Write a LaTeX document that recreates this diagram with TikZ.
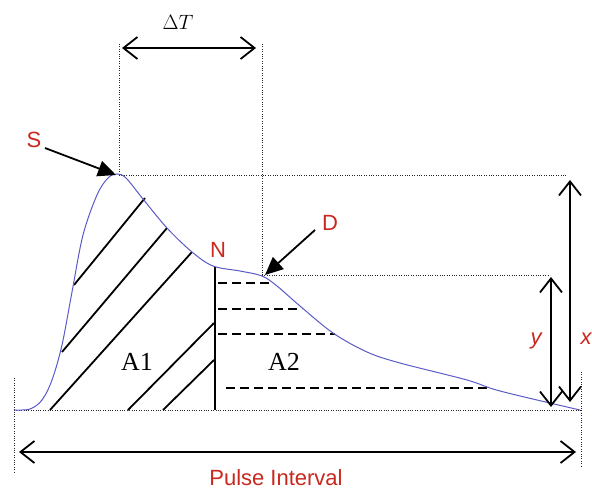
\documentclass[tikz,border=0pt]{standalone}
\usepackage{fontspec}
\setmainfont{Liberation Serif}
\setsansfont{Liberation Sans}
\usetikzlibrary{arrows.meta}
\definecolor{lblred}{RGB}{200,40,30}
\definecolor{curveblue}{RGB}{90,90,200}
\tikzset{
  dotln/.style={line width=1pt,black!85,dash pattern=on 1pt off 1.4pt},
  hatch/.style={line width=1.8pt,black},
  dashln/.style={dash pattern=on 9pt off 5pt,line width=1.8pt,black},
  dimarrow/.style={line width=1.8pt,{Straight Barb[length=14pt,width=22pt,line width=1.8pt]}-{Straight Barb[length=14pt,width=22pt,line width=1.8pt]}},
  ptrarrow/.style={line width=1.8pt,-{Triangle[length=18pt,width=16pt]}},
  redlbl/.style={text=lblred,font=\sffamily\fontsize{22}{24}\selectfont,inner sep=0pt},
  arealbl/.style={font=\rmfamily\fontsize{26}{28}\selectfont,inner sep=0pt}
}
\begin{document}
\begin{tikzpicture}[x=1pt,y=-1pt]
\useasboundingbox (0,0) rectangle (592,490);
% key points
\coordinate (pk) at (116,175);
\coordinate (dp) at (265,275);
% dotted guides
\draw[dotln] (14,378) -- (14,472);
\draw[dotln] (581,372) -- (581,466);
\draw[dotln] (14,410) -- (581,410);
\draw[dotln] (119,44) -- (119,175);
\draw[dotln] (262,44) -- (262,276);
\draw[dotln] (119,175) -- (567,175);
\draw[dotln] (262,275) -- (550,275);
% hatching A1
\draw[hatch] (74,285) -- (145,198);
\draw[hatch] (62,352) -- (167,228);
\draw[hatch] (50,410) -- (192,252);
\draw[hatch] (128,410) -- (214,323);
\draw[hatch] (163,410) -- (214,360);
% divider N
\draw[line width=2pt] (215,267) -- (215,410);
% dashed A2
\draw[dashln] (218,283) -- (272,283);
\draw[dashln] (218,309) -- (302,309);
\draw[dashln] (218,334) -- (335,334);
\draw[dashln] (226,388) -- (489,388);
% pulse curve
\draw[curveblue,line width=1pt] plot[smooth,tension=0.55] coordinates {
(14,410) (30,409) (42,400) (52,380) (62,345) (72,292) (83,235) (97,195) (108,178) (117,174) (126,178) (143,199) (167,228) (192,252) (213,266) (240,271) (262,276) (277,286) (300,306) (333,333) (367,352) (400,363) (467,380) (500,391) (580,410)};
% labels
\node[font=\fontsize{22}{24}\selectfont,inner sep=0pt] (dT) at (178,22) {$\Delta T$};
\node[redlbl] (S) at (34,140) {S};
\node[redlbl] (N) at (218,250) {N};
\node[redlbl] (D) at (330,223) {D};
\node[redlbl,font=\sffamily\itshape\fontsize{22}{24}\selectfont] (ylab) at (536,341) {y};
\node[redlbl,font=\sffamily\itshape\fontsize{22}{24}\selectfont] (xlab) at (586,339) {x};
\node[arealbl] (A1) at (137,362) {A1};
\node[arealbl] (A2) at (284,362) {A2};
\node[redlbl] (PI) at (276,478) {Pulse Interval};
% dimension arrows
\coordinate (dTl) at (122,48);
\coordinate (dTr) at (256,48);
\draw[dimarrow] (dTl) -- (dTr);
\coordinate (yt) at (551,277);
\coordinate (yb) at (551,407);
\draw[dimarrow] (yt) -- (yb);
\coordinate (xt) at (570,180);
\coordinate (xb) at (570,402);
\draw[dimarrow] (xt) -- (xb);
\coordinate (pil) at (19,452);
\coordinate (pir) at (576,452);
\draw[dimarrow] (pil) -- (pir);
% pointer arrows
\draw[ptrarrow] (45,148) -- (pk);
\draw[ptrarrow] (315,230) -- (dp);
\end{tikzpicture}
\end{document}
